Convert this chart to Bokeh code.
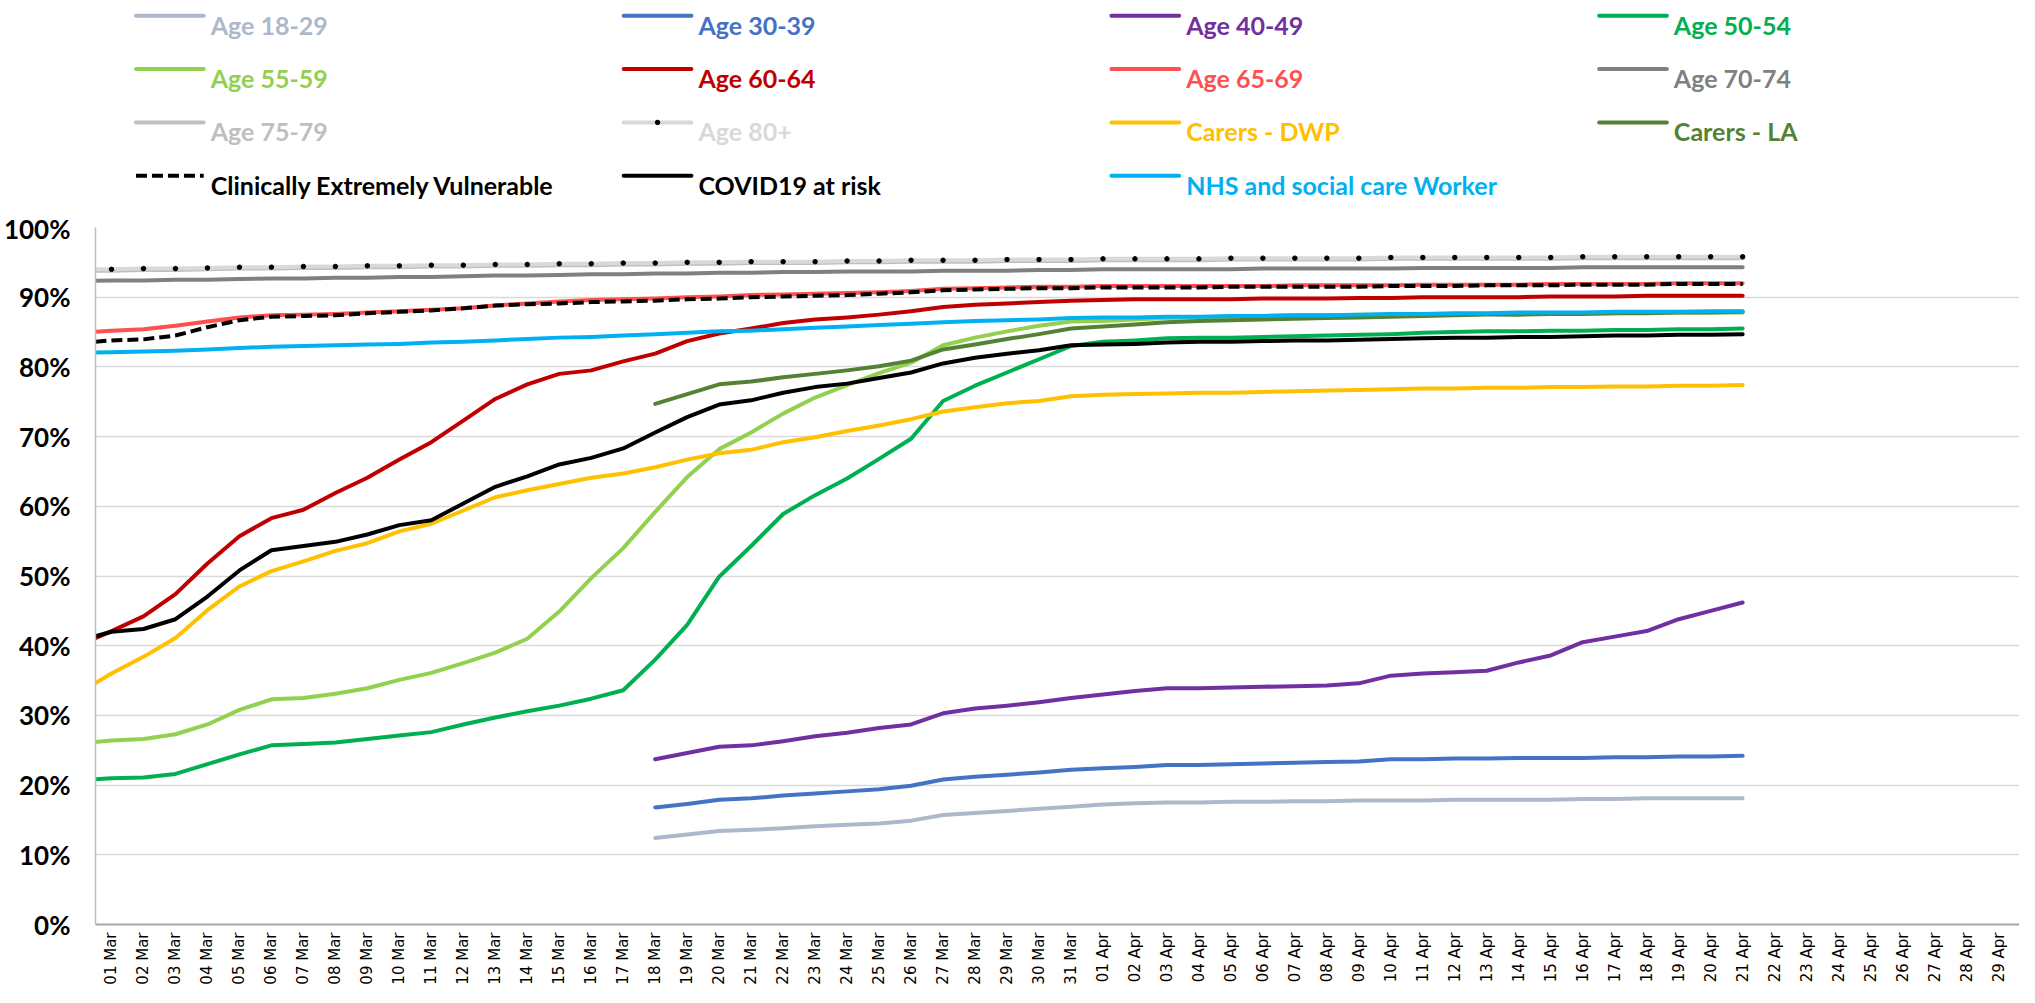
import math
from bokeh.plotting import figure
from bokeh.models import ColumnDataSource, Range1d, FixedTicker, NumeralTickFormatter
from bokeh.layouts import column
from bokeh.core.properties import value
from bokeh.embed import file_html
from bokeh.resources import INLINE

# ---------------- data ----------------
tick_labels = ["%02d Mar" % d for d in range(1, 32)] + ["%02d Apr" % d for d in range(1, 31)]
# first data point (28 Feb) lies just left of the axis and is clipped by the plot area
data_dates = ["28 Feb"] + tick_labels[:52]

N17 = [None] * 18  # 28 Feb .. 17 Mar without data

age_18_29 = N17 + [0.124, 0.129, 0.134, 0.136, 0.138, 0.141, 0.143, 0.145, 0.149, 0.157, 0.160, 0.163, 0.166, 0.169,
                   0.172, 0.174, 0.175, 0.175, 0.176, 0.176, 0.177, 0.177, 0.178, 0.178, 0.178, 0.179, 0.179, 0.179,
                   0.179, 0.180, 0.180, 0.181, 0.181, 0.181, 0.181]
age_30_39 = N17 + [0.168, 0.173, 0.179, 0.181, 0.185, 0.188, 0.191, 0.194, 0.199, 0.208, 0.212, 0.215, 0.218, 0.222,
                   0.224, 0.226, 0.229, 0.229, 0.230, 0.231, 0.232, 0.233, 0.234, 0.237, 0.237, 0.238, 0.238, 0.239,
                   0.239, 0.239, 0.240, 0.240, 0.241, 0.241, 0.242]
age_40_49 = N17 + [0.237, 0.246, 0.255, 0.257, 0.263, 0.270, 0.275, 0.282, 0.287, 0.303, 0.310, 0.314, 0.319, 0.325,
                   0.330, 0.335, 0.339, 0.339, 0.340, 0.341, 0.342, 0.343, 0.346, 0.357, 0.360, 0.362, 0.364, 0.376,
                   0.386, 0.405, 0.413, 0.421, 0.438, 0.450, 0.462]
age_50_54 = [0.207,
             0.210, 0.211, 0.216, 0.230, 0.244, 0.257, 0.259, 0.261, 0.266, 0.271, 0.276, 0.287, 0.297, 0.306, 0.314,
             0.324, 0.336, 0.380, 0.430, 0.499, 0.543, 0.589, 0.616, 0.640, 0.668, 0.697, 0.751, 0.773, 0.792, 0.811, 0.830,
             0.836, 0.838, 0.841, 0.842, 0.842, 0.843, 0.844, 0.845, 0.846, 0.847, 0.849, 0.850, 0.851, 0.851, 0.852,
             0.852, 0.853, 0.853, 0.854, 0.854, 0.855]
age_55_59 = [0.260,
             0.264, 0.266, 0.273, 0.287, 0.308, 0.323, 0.325, 0.331, 0.339, 0.351, 0.361, 0.375, 0.390, 0.410, 0.449,
             0.497, 0.540, 0.592, 0.642, 0.682, 0.706, 0.733, 0.756, 0.774, 0.791, 0.806, 0.831, 0.842, 0.851, 0.859, 0.865,
             0.866, 0.868, 0.870, 0.871, 0.872, 0.873, 0.874, 0.874, 0.875, 0.875, 0.876, 0.876, 0.876, 0.877, 0.877,
             0.877, 0.877, 0.878, 0.878, 0.878, 0.878]
age_60_64 = [0.401,
             0.421, 0.442, 0.474, 0.518, 0.557, 0.583, 0.595, 0.619, 0.641, 0.667, 0.692, 0.723, 0.754, 0.775, 0.790,
             0.795, 0.808, 0.819, 0.837, 0.848, 0.855, 0.863, 0.868, 0.871, 0.875, 0.880, 0.886, 0.889, 0.891, 0.893, 0.895,
             0.896, 0.897, 0.897, 0.897, 0.897, 0.898, 0.898, 0.898, 0.899, 0.899, 0.900, 0.900, 0.900, 0.900, 0.901,
             0.901, 0.901, 0.902, 0.902, 0.902, 0.902]
age_65_69 = [0.849,
             0.852, 0.854, 0.859, 0.865, 0.871, 0.874, 0.875, 0.876, 0.878, 0.880, 0.882, 0.884, 0.888, 0.891, 0.894,
             0.896, 0.897, 0.898, 0.900, 0.901, 0.903, 0.904, 0.905, 0.906, 0.907, 0.909, 0.912, 0.913, 0.914, 0.915, 0.915,
             0.916, 0.916, 0.916, 0.916, 0.916, 0.916, 0.917, 0.917, 0.917, 0.917, 0.918, 0.918, 0.918, 0.918, 0.919,
             0.919, 0.919, 0.919, 0.920, 0.920, 0.920]
age_70_74 = [0.9235,
             0.924, 0.924, 0.925, 0.925, 0.926, 0.927, 0.927, 0.928, 0.928, 0.929, 0.929, 0.930, 0.931, 0.931, 0.932,
             0.933, 0.933, 0.934, 0.934, 0.935, 0.935, 0.936, 0.936, 0.937, 0.937, 0.937, 0.938, 0.938, 0.938, 0.939, 0.939,
             0.940, 0.940, 0.940, 0.940, 0.940, 0.941, 0.941, 0.941, 0.941, 0.941, 0.942, 0.942, 0.942, 0.942, 0.942,
             0.943, 0.943, 0.943, 0.943, 0.943, 0.943]
age_75_79 = [0.938,
             0.938, 0.939, 0.939, 0.940, 0.941, 0.941, 0.942, 0.942, 0.943, 0.943, 0.944, 0.944, 0.945, 0.945, 0.946,
             0.946, 0.947, 0.947, 0.948, 0.948, 0.949, 0.949, 0.949, 0.950, 0.950, 0.951, 0.951, 0.951, 0.952, 0.952, 0.952,
             0.953, 0.953, 0.953, 0.953, 0.954, 0.954, 0.954, 0.954, 0.954, 0.955, 0.955, 0.955, 0.955, 0.955, 0.955,
             0.956, 0.956, 0.956, 0.956, 0.956, 0.956]
age_80_plus = [0.940,
               0.940, 0.941, 0.941, 0.942, 0.943, 0.943, 0.944, 0.944, 0.945, 0.945, 0.946, 0.946, 0.947, 0.947, 0.948,
               0.948, 0.949, 0.949, 0.950, 0.950, 0.951, 0.951, 0.951, 0.952, 0.952, 0.953, 0.953, 0.953, 0.954, 0.954, 0.954,
               0.955, 0.955, 0.955, 0.955, 0.956, 0.956, 0.956, 0.956, 0.956, 0.957, 0.957, 0.957, 0.957, 0.957, 0.957,
               0.958, 0.958, 0.958, 0.958, 0.958, 0.958]
carers_dwp = [0.333,
              0.360, 0.384, 0.411, 0.451, 0.485, 0.507, 0.521, 0.536, 0.547, 0.564, 0.575, 0.594, 0.613, 0.623, 0.632,
              0.641, 0.647, 0.656, 0.667, 0.676, 0.681, 0.692, 0.699, 0.708, 0.716, 0.725, 0.736, 0.742, 0.748, 0.751, 0.758,
              0.760, 0.761, 0.762, 0.763, 0.763, 0.764, 0.765, 0.766, 0.767, 0.768, 0.769, 0.769, 0.770, 0.770, 0.771,
              0.771, 0.772, 0.772, 0.773, 0.773, 0.774]
carers_la = N17 + [0.747, 0.761, 0.775, 0.779, 0.785, 0.790, 0.795, 0.801, 0.809, 0.825, 0.832, 0.840, 0.847, 0.855,
                   0.858, 0.861, 0.864, 0.866, 0.867, 0.868, 0.869, 0.870, 0.871, 0.872, 0.873, 0.874, 0.875, 0.875,
                   0.876, 0.876, 0.877, 0.877, 0.878, 0.878, 0.879]
cev = [0.834,
       0.838, 0.8395, 0.845, 0.857, 0.867, 0.872, 0.873, 0.874, 0.877, 0.879, 0.881, 0.884, 0.888, 0.890, 0.891,
       0.893, 0.894, 0.895, 0.897, 0.898, 0.900, 0.901, 0.902, 0.903, 0.905, 0.907, 0.910, 0.911, 0.912, 0.913, 0.913,
       0.914, 0.914, 0.914, 0.914, 0.915, 0.915, 0.915, 0.915, 0.915, 0.916, 0.916, 0.916, 0.917, 0.917, 0.917,
       0.918, 0.918, 0.918, 0.919, 0.919, 0.919]
covid_at_risk = [0.407,
                 0.420, 0.424, 0.438, 0.4705, 0.508, 0.537, 0.543, 0.549, 0.5595, 0.573, 0.580, 0.604, 0.628, 0.643, 0.660,
                 0.6695, 0.683, 0.706, 0.728, 0.746, 0.752, 0.763, 0.771, 0.776, 0.784, 0.792, 0.805, 0.813, 0.819, 0.824, 0.831,
                 0.832, 0.833, 0.835, 0.836, 0.836, 0.837, 0.838, 0.838, 0.839, 0.840, 0.841, 0.842, 0.842, 0.843, 0.843,
                 0.844, 0.845, 0.845, 0.846, 0.846, 0.847]
nhs_worker = [0.820,
              0.821, 0.822, 0.823, 0.825, 0.827, 0.829, 0.830, 0.831, 0.832, 0.833, 0.835, 0.836, 0.838, 0.840, 0.842,
              0.843, 0.845, 0.847, 0.849, 0.851, 0.852, 0.854, 0.856, 0.858, 0.860, 0.862, 0.864, 0.866, 0.867, 0.868, 0.870,
              0.871, 0.871, 0.872, 0.872, 0.873, 0.873, 0.874, 0.874, 0.875, 0.876, 0.876, 0.877, 0.877, 0.878, 0.878,
              0.878, 0.879, 0.879, 0.879, 0.880, 0.880]

series_names = ["Age 18-29", "Age 30-39", "Age 40-49", "Age 50-54",
                "Age 55-59", "Age 60-64", "Age 65-69", "Age 70-74",
                "Age 75-79", "Age 80+", "Carers - DWP", "Carers - LA",
                "Clinically Extremely Vulnerable", "COVID19 at risk", "NHS and social care Worker"]
series_values = [age_18_29, age_30_39, age_40_49, age_50_54,
                 age_55_59, age_60_64, age_65_69, age_70_74,
                 age_75_79, age_80_plus, carers_dwp, carers_la,
                 cev, covid_at_risk, nhs_worker]
series_colors = ["#adb9ca", "#4472c4", "#7030a0", "#00b050",
                 "#92d050", "#c00000", "#ff5050", "#808080",
                 "#bfbfbf", "#d9d9d9", "#ffc000", "#548235",
                 "#000000", "#000000", "#00b0f0"]
series_dash = ["solid"] * 12 + ["11 5", "solid", "solid"]
series_marker = [False] * 9 + [True] + [False] * 5

# ---------------- sizes (page 2035x1003 minus 8px margins) ----------------
W = 2019
LEG_H = 212
MAIN_H = 987 - LEG_H
LEFT = 88
TOP = 15
FRAME_H = 700
BOTTOM = MAIN_H - TOP - FRAME_H
DAY_PX = 32.1
X_END = -0.5 + (W - LEFT) / DAY_PX

# ---------------- main chart ----------------
LBL_FONT = "Lato"
p = figure(width=W, height=MAIN_H, x_range=Range1d(-0.5, X_END), y_range=Range1d(0, 1),
           output_backend="svg", toolbar_location=None,
           min_border_left=LEFT, min_border_right=0, min_border_top=TOP, min_border_bottom=BOTTOM)
p.outline_line_color = None
p.background_fill_color = "white"
p.xgrid.visible = False
p.ygrid.grid_line_color = "#d9d9d9"
p.ygrid.grid_line_width = 1.5

p.xaxis.ticker = FixedTicker(ticks=list(range(len(tick_labels))))
p.xaxis.major_label_overrides = {i: lab for i, lab in enumerate(tick_labels)}
p.xaxis.major_label_orientation = math.pi / 2
p.xaxis.major_label_text_font = "DejaVu Sans"
p.xaxis.major_label_text_font_size = "15px"
p.xaxis.major_label_text_color = "#000000"
p.xaxis.major_label_standoff = 8
p.xaxis.major_tick_in = 0
p.xaxis.major_tick_out = 0
p.xaxis.major_tick_line_color = None
p.xaxis.minor_tick_line_color = None
p.xaxis.axis_line_color = "#a6a6a6"
p.xaxis.axis_line_width = 2

p.yaxis.ticker = FixedTicker(ticks=[i / 10 for i in range(11)])
p.yaxis.formatter = NumeralTickFormatter(format="0%")
p.yaxis.major_label_text_font = LBL_FONT
p.yaxis.major_label_text_font_style = "bold"
p.yaxis.major_label_text_font_size = "26px"
p.yaxis.major_label_text_color = "#000000"
p.yaxis.major_label_standoff = 25
p.yaxis.major_tick_in = 0
p.yaxis.major_tick_out = 0
p.yaxis.major_tick_line_color = None
p.yaxis.minor_tick_line_color = None
p.yaxis.axis_line_color = "#bfbfbf"
p.yaxis.axis_line_width = 1.5

day_index = list(range(-1, len(data_dates) - 1))
for name, vals, col, dash, mk in zip(series_names, series_values, series_colors, series_dash, series_marker):
    xs = [d for d, v in zip(day_index, vals) if v is not None]
    ys = [v for v in vals if v is not None]
    src = ColumnDataSource(dict(x=xs, y=ys))
    p.line("x", "y", source=src, line_color=col, line_width=4, line_dash=dash,
           line_cap="round" if dash == "solid" else "butt", line_join="round")
    if mk:
        p.scatter("x", "y", source=src, size=4.5, marker="circle", fill_color="black", line_color="black")

# ---------------- legend (separate strip on top) ----------------
# frame of this strip spans canvas x LEFT..W, so data x == canvas x
lf = figure(width=W, height=LEG_H, x_range=Range1d(LEFT, W), y_range=Range1d(LEG_H, 0),
            output_backend="svg", toolbar_location=None,
            min_border_left=LEFT, min_border_right=0, min_border_top=0, min_border_bottom=0,
            x_axis_location=None, y_axis_location=None)
lf.outline_line_color = None
lf.xgrid.visible = False
lf.ygrid.visible = False

for i, (name, col, dash, mk) in enumerate(zip(series_names, series_colors, series_dash, series_marker)):
    c, r = i % 4, i // 4
    x0 = 128.6 + 489.5 * c
    y0 = 15.3 + 53.3 * r
    lf.segment(x0=[x0], y0=[y0], x1=[x0 + 68], y1=[y0], line_color=col, line_width=4, line_dash=dash,
               line_cap="round" if dash == "solid" else "butt")
    if mk:
        lf.scatter(x=[x0 + 34], y=[y0], size=4.5, marker="circle", fill_color="black", line_color="black")
    lf.text(x=[x0 + 75], y=[y0 + 9], text=[name], text_color=col, text_font=value(LBL_FONT),
            text_font_style="bold", text_font_size=value("25px"), text_baseline="alphabetic", text_align="left")

layout = column(lf, p, spacing=0)
open("out.html", "w").write(file_html(layout, INLINE))
